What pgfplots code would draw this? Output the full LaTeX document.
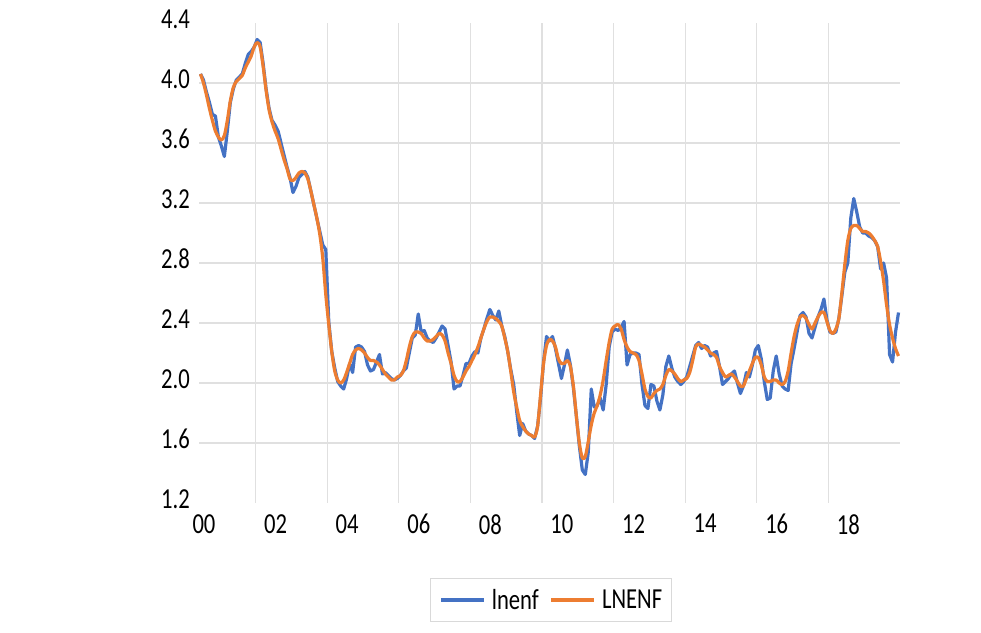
\documentclass[border=0pt]{standalone}
\usepackage{fontspec}
\setmainfont{Carlito}[FakeStretch=0.78]
\usepackage{pgfplots}
\usepackage{pgfplotstable}
\pgfplotsset{compat=1.18}

\definecolor{exblue}{HTML}{4472C4}
\definecolor{exorange}{HTML}{ED7D31}
\definecolor{gridgray}{HTML}{E0E0E0}
\definecolor{legframe}{HTML}{D9D9D9}

% monthly series, m = 0 is 2000M01
\pgfplotstableread{
m lnenf LNENF
0 4.06 4.06
1 4.02 4.00
2 3.94 3.92
3 3.87 3.83
4 3.79 3.75
5 3.78 3.68
6 3.64 3.64
7 3.58 3.62
8 3.51 3.65
9 3.68 3.75
10 3.87 3.88
11 3.96 3.97
12 4.02 4.01
13 4.04 4.03
14 4.06 4.05
15 4.13 4.10
16 4.19 4.14
17 4.21 4.18
18 4.24 4.24
19 4.29 4.27
20 4.27 4.24
21 4.13 4.11
22 3.96 3.95
23 3.83 3.82
24 3.75 3.74
25 3.72 3.68
26 3.68 3.63
27 3.60 3.56
28 3.52 3.49
29 3.44 3.43
30 3.37 3.36
31 3.27 3.35
32 3.31 3.37
33 3.37 3.40
34 3.39 3.41
35 3.41 3.40
36 3.37 3.36
37 3.28 3.28
38 3.19 3.19
39 3.10 3.10
40 3.01 2.99
41 2.92 2.83
42 2.89 2.59
43 2.41 2.39
44 2.21 2.21
45 2.10 2.08
46 2.01 2.02
47 1.98 2.00
48 1.96 2.02
49 2.03 2.07
50 2.13 2.13
51 2.07 2.19
52 2.24 2.22
53 2.25 2.23
54 2.24 2.22
55 2.21 2.20
56 2.12 2.17
57 2.08 2.15
58 2.09 2.15
59 2.14 2.14
60 2.19 2.12
61 2.06 2.09
62 2.07 2.06
63 2.05 2.04
64 2.03 2.02
65 2.02 2.02
66 2.03 2.04
67 2.05 2.05
68 2.08 2.08
69 2.10 2.15
70 2.20 2.24
71 2.30 2.31
72 2.32 2.34
73 2.46 2.34
74 2.34 2.33
75 2.35 2.30
76 2.30 2.28
77 2.28 2.28
78 2.27 2.29
79 2.30 2.31
80 2.34 2.33
81 2.38 2.32
82 2.36 2.28
83 2.25 2.20
84 2.14 2.13
85 1.96 2.05
86 1.98 2.01
87 1.98 2.01
88 2.05 2.04
89 2.13 2.08
90 2.13 2.11
91 2.18 2.15
92 2.21 2.19
93 2.20 2.24
94 2.30 2.30
95 2.36 2.36
96 2.43 2.41
97 2.49 2.44
98 2.45 2.44
99 2.42 2.43
100 2.48 2.41
101 2.38 2.38
102 2.31 2.30
103 2.21 2.21
104 2.09 2.08
105 1.99 1.94
106 1.81 1.84
107 1.65 1.75
108 1.73 1.71
109 1.68 1.68
110 1.66 1.66
111 1.65 1.65
112 1.63 1.64
113 1.71 1.71
114 1.90 1.92
115 2.14 2.13
116 2.31 2.25
117 2.28 2.29
118 2.31 2.28
119 2.23 2.24
120 2.13 2.16
121 2.03 2.13
122 2.12 2.13
123 2.22 2.15
124 2.12 2.11
125 1.97 1.98
126 1.78 1.78
127 1.58 1.60
128 1.42 1.50
129 1.39 1.51
130 1.54 1.61
131 1.96 1.72
132 1.84 1.80
133 1.85 1.85
134 1.90 1.92
135 1.82 2.02
136 1.99 2.15
137 2.24 2.27
138 2.34 2.36
139 2.36 2.38
140 2.35 2.39
141 2.37 2.36
142 2.41 2.29
143 2.12 2.24
144 2.19 2.21
145 2.20 2.20
146 2.20 2.19
147 2.19 2.15
148 1.99 2.06
149 1.85 1.96
150 1.83 1.91
151 1.99 1.90
152 1.98 1.93
153 1.88 1.95
154 1.82 1.96
155 1.92 1.99
156 2.11 2.05
157 2.18 2.09
158 2.10 2.08
159 2.04 2.06
160 2.01 2.03
161 1.99 2.01
162 2.01 2.02
163 2.04 2.03
164 2.11 2.07
165 2.18 2.15
166 2.25 2.24
167 2.27 2.26
168 2.23 2.25
169 2.25 2.24
170 2.24 2.22
171 2.18 2.20
172 2.20 2.19
173 2.21 2.17
174 2.11 2.11
175 1.99 2.07
176 2.01 2.04
177 2.03 2.05
178 2.06 2.06
179 2.08 2.04
180 2.00 2.01
181 1.93 1.98
182 1.98 1.98
183 2.07 2.03
184 2.04 2.08
185 2.12 2.13
186 2.22 2.17
187 2.25 2.17
188 2.16 2.12
189 2.01 2.04
190 1.89 2.01
191 1.90 2.01
192 2.08 2.02
193 2.18 2.02
194 2.06 2.00
195 1.98 1.99
196 1.96 2.01
197 1.95 2.08
198 2.13 2.20
199 2.23 2.31
200 2.34 2.39
201 2.45 2.44
202 2.47 2.45
203 2.44 2.43
204 2.33 2.39
205 2.30 2.36
206 2.37 2.40
207 2.44 2.44
208 2.49 2.47
209 2.56 2.47
210 2.42 2.41
211 2.34 2.35
212 2.33 2.33
213 2.34 2.36
214 2.43 2.43
215 2.58 2.60
216 2.74 2.79
217 2.80 2.95
218 3.10 3.03
219 3.23 3.05
220 3.14 3.05
221 3.04 3.03
222 3.00 3.01
223 3.00 3.01
224 2.98 3.00
225 2.97 2.98
226 2.95 2.95
227 2.91 2.91
228 2.76 2.81
229 2.80 2.68
230 2.70 2.52
231 2.19 2.39
232 2.14 2.30
233 2.34 2.23
234 2.47 2.18
}\enfdata

\begin{document}
\begin{tikzpicture}[x=1pt,y=1pt]
\path[use as bounding box] (0,0) rectangle (981,632);
\begin{axis}[
    at={(199pt,129pt)}, anchor=south west,
    scale only axis, width=701pt, height=480pt,
    xmin=-0.5, xmax=234.5, ymin=1.2, ymax=4.4,
    axis line style={draw=none},
    major tick length=0pt, minor tick length=0pt,
    xtick={0,24,48,72,96,120,144,168,192,216},
    xticklabels={00,02,04,06,08,10,12,14,16,18},
    ytick={1.2,1.6,2.0,2.4,2.8,3.2,3.6,4.0,4.4},
    yticklabels={1.2,1.6,2.0,2.4,2.8,3.2,3.6,4.0,4.4},
    extra x ticks={18.5,42.5,66.5,90.5,114.5,138.5,162.5,186.5,210.5},
    extra x tick labels={},
    extra y ticks={1.6,2.0,2.4,2.8,3.2,3.6,4.0},
    extra y tick labels={},
    extra tick style={grid=major, major grid style={draw=gridgray, line width=1.2pt}},
    tick label style={font=\fontsize{29pt}{34pt}\selectfont, text=black},
    yticklabel style={anchor=east, inner sep=0pt, xshift=-9pt, yshift=4pt},
    xticklabel style={anchor=north, inner sep=0pt, yshift=-11pt, xshift=3.5pt},
    legend columns=2,
    legend style={at={(0.502,-0.202)}, anchor=center, draw=legframe, line width=1pt,
        font=\fontsize{29pt}{34pt}\selectfont, inner xsep=9pt, inner ysep=11pt,
        nodes={inner sep=0pt}, column sep=6pt,
        /tikz/every even column/.append style={column sep=11pt}},
    legend image code/.code={\draw[#1] (0pt,0pt) -- (43pt,0pt);},
]
\addplot[color=exblue, line width=3.2pt, line join=round] table[x=m, y=lnenf] {\enfdata};
\addlegendentry{lnenf}
\addplot[color=exorange, line width=3.2pt, smooth, tension=0.5, line join=round] table[x=m, y=LNENF] {\enfdata};
\addlegendentry{LNENF}
\end{axis}
\end{tikzpicture}
\end{document}
